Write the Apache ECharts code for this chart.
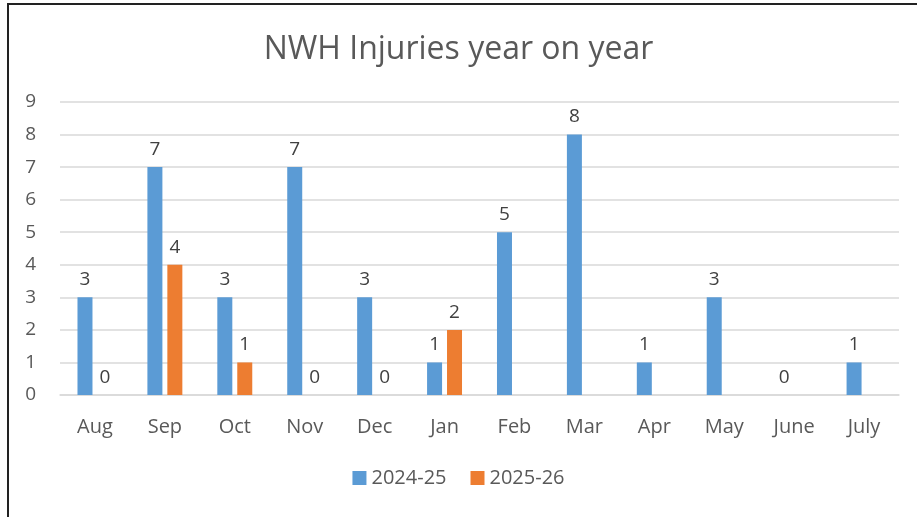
<!DOCTYPE html>
<html>
<head>
<meta charset="utf-8">
<title>NWH Injuries year on year</title>
<script src="https://cdn.jsdelivr.net/npm/echarts@6/dist/echarts.min.js"></script>
<style>
    html, body { margin: 0; padding: 0; background: #fff; }
    #frame {
        position: absolute; left: 7px; top: 3px; width: 930px; height: 530px;
        border-left: 2px solid #222; border-top: 2px solid #222;
    }
    #echart1 { position: absolute; left: 0; top: 0; width: 917px; height: 517px; }
</style>
</head>
<body>
<div id="frame"></div>
<div id="echart1"></div>
<script>
    var months = ['Aug', 'Sep', 'Oct', 'Nov', 'Dec', 'Jan', 'Feb', 'Mar', 'Apr', 'May', 'June', 'July'];
    var injuries2425 = [3, 7, 3, 7, 3, 1, 5, 8, 1, 3, 0, 1];
    var injuries2526 = [0, 4, 1, 0, 0, 2, null, null, null, null, null, null];
    var yTicks = { min: 0, max: 9, interval: 1 };

    var fontFam = '"Open Sans", "Liberation Sans", sans-serif';

    var labelStyle = {
        show: true,
        position: 'top',
        distance: 8,
        fontSize: 19,
        color: '#404040',
        fontFamily: fontFam
    };

    var chart = document.getElementById('echart1');
    var barChart = echarts.init(chart);
    var option = {
        animation: false,
        title: {
            text: 'NWH Injuries year on year',
            left: 'center',
            top: 29,
            textStyle: {
                fontSize: 32,
                fontWeight: 'normal',
                color: '#595959',
                fontFamily: fontFam
            }
        },
        legend: {
            bottom: 24,
            left: 'center',
            itemWidth: 14,
            itemHeight: 14,
            itemGap: 24,
            icon: 'rect',
            textStyle: {
                fontSize: 20,
                color: '#595959',
                fontFamily: fontFam
            },
            data: ['2024-25', '2025-26']
        },
        grid: {
            top: 102,
            right: 18,
            bottom: 122,
            left: 60
        },
        xAxis: {
            type: 'category',
            data: months,
            axisLine: { lineStyle: { color: '#d9d9d9', width: 1.5 } },
            axisTick: { show: false },
            axisLabel: {
                fontSize: 20,
                color: '#595959',
                margin: 22,
                fontFamily: fontFam
            }
        },
        yAxis: {
            type: 'value',
            min: yTicks.min,
            max: yTicks.max,
            interval: yTicks.interval,
            splitLine: { lineStyle: { color: '#d9d9d9', width: 1.5 } },
            axisLine: { show: false },
            axisTick: { show: false },
            axisLabel: {
                fontSize: 19,
                color: '#595959',
                margin: 24,
                fontFamily: fontFam
            }
        },
        series: [{
            name: '2024-25',
            type: 'bar',
            barWidth: 15,
            barGap: '33%',
            data: injuries2425,
            itemStyle: { color: '#5b9bd5' },
            label: labelStyle
        }, {
            name: '2025-26',
            type: 'bar',
            barWidth: 15,
            data: injuries2526,
            itemStyle: { color: '#ed7d31' },
            label: labelStyle
        }]
    };
    barChart.setOption(option);
    window.addEventListener('resize', function () {
        barChart.resize();
    });
</script>
</body>
</html>
